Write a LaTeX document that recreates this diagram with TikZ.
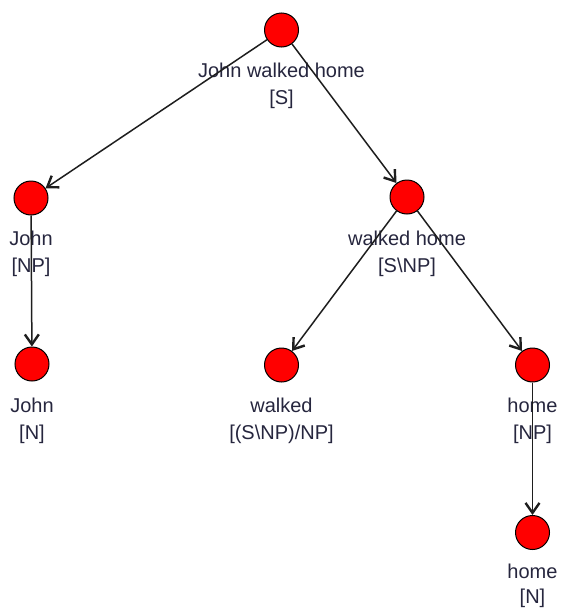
\documentclass[tikz,border=0pt]{standalone}
\usepackage{fontspec}
\setmainfont{Liberation Sans}
\usetikzlibrary{arrows.meta}
\definecolor{labelink}{RGB}{38,38,62}
\definecolor{edgeink}{RGB}{30,30,30}
\begin{document}
\begin{tikzpicture}[x=1pt,y=-1pt,
  vertex/.style={circle,draw=black,fill=red,line width=1pt,minimum size=34pt,inner sep=0pt},
  word/.style={anchor=base,font=\fontsize{20}{24}\selectfont,text=labelink,inner sep=0pt},
  edge/.style={draw=edgeink,line width=1.5pt,
    -{Straight Barb[length=10pt,width=14pt,line width=2.4pt]}}]
  \useasboundingbox (0,0) rectangle (560,608);

  % tree vertices
  \node[vertex] (s)   at (281.5,30)  {};
  \node[vertex] (np)  at (31,198)    {};
  \node[vertex] (vp)  at (407,197)   {};
  \node[vertex] (n1)  at (32,364)    {};
  \node[vertex] (tv)  at (281.5,365) {};
  \node[vertex] (np2) at (532.5,365) {};
  \node[vertex] (n2)  at (532.5,532.5) {};

  % category labels under each vertex
  \node[word] (s1)   at (281.5,77)  {John walked home};
  \node[word] (s2)   at (281.5,104) {[S]};
  \node[word] (np1)  at (31,245)    {John};
  \node[word] (npb)  at (31,272)    {[NP]};
  \node[word] (vp1)  at (407,245)   {walked home};
  \node[word] (vp2)  at (407,272)   {[S\textbackslash NP]};
  \node[word] (n1a)  at (32,412)    {John};
  \node[word] (n1b)  at (32,439)    {[N]};
  \node[word] (tv1)  at (281.5,412) {walked};
  \node[word] (tv2)  at (281.5,439) {[(S\textbackslash NP)/NP]};
  \node[word] (np2a) at (532.5,412) {home};
  \node[word] (np2b) at (532.5,439) {[NP]};
  \node[word] (n2a)  at (532.5,578) {home};
  \node[word] (n2b)  at (532.5,603) {[N]};

  % derivation edges
  \draw[edge] (s)   -- (np);
  \draw[edge] (s)   -- (vp);
  \draw[edge] (np)  -- (n1);
  \draw[edge] (vp)  -- (tv);
  \draw[edge] (vp)  -- (np2);
  \draw[edge] (np2) -- (n2);
\end{tikzpicture}
\end{document}
